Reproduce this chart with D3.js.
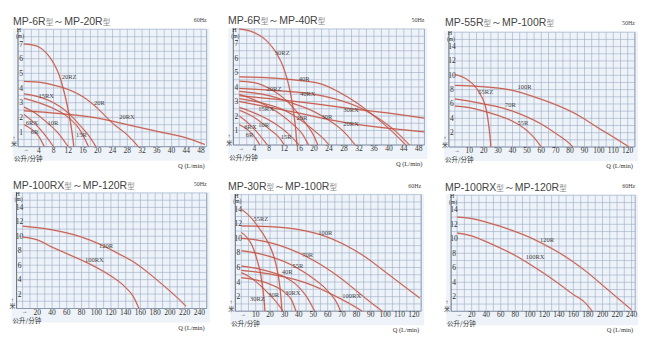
<!DOCTYPE html>
<html><head><meta charset="utf-8">
<script src="https://cdn.jsdelivr.net/npm/d3@7"></script>
<style>body{margin:0;background:#fff}svg{display:block}</style>
</head><body><svg id="c" width="654" height="341"></svg>
<script>
// ---------------- DATA ----------------
// Panel 1: MP-6R ~ MP-20R, 60Hz
const p1Freq = "60Hz";
const p1XTicks = [4,8,12,16,20,24,28,32,36,40,44,48];
const p1YTicks = [1,2,3,4,5,6,7];
const p1Series = [
  {name:"20RZ", pts:[[0,7],[2,6.95],[4,6.8],[6,6.4],[8,5.7],[9.5,4.9],[10.8,3.8],[12.2,2.2],[13,1],[13.5,0]]},
  {name:"20R",  pts:[[0,4.45],[4,4.4],[8,4.2],[12,3.9],[16,3.4],[20,2.6],[24,1.6],[28,0.8],[31,0]]},
  {name:"20RX", pts:[[0,2.45],[10,2.25],[20,1.95],[28,1.5],[36,1.05],[44,0.6],[49,0.15]]},
  {name:"15RX", pts:[[0,3.6],[4,3.4],[8,3.0],[12,2.3],[15,1.5],[18,0.6],[19.5,0]]},
  {name:"15R",  pts:[[0,3.3],[4,3.0],[8,2.6],[12,2.0],[15,1.2],[17.5,0]]},
  {name:"10R",  pts:[[0,2.7],[3,2.3],[6,1.7],[9,1.0],[12,0]]},
  {name:"6RX",  pts:[[0,2.2],[2,1.8],[4,1.3],[6,0.7],[8,0]]},
  {name:"6R",   pts:[[0,1.5],[2,1.2],[4,0.7],[5.5,0]]}
];
const p1Labels = [["20RZ",10.2,4.6],["15RX",3.9,3.34],["20R",19,2.84],["20RX",25.8,1.87],["6RX",0.5,1.48],["10R",6.4,1.48],["6R",1.8,0.84],["15R",14.1,0.68]];

// Panel 2: MP-6R ~ MP-40R, 50Hz
const p2Freq = "50Hz";
const p2XTicks = [4,8,12,16,20,24,28,32,36,40,44,48];
const p2YTicks = [1,2,3,4,5,6,7];
const p2Series = [
  {name:"30RZ", pts:[[0,8],[4,7.75],[8,7.0],[10,6.3],[12,5.2],[13.5,3.8],[14.5,2.3],[15.1,1.0],[15.4,0]]},
  {name:"40R",  pts:[[0,4.7],[10,4.6],[16,4.45],[22,4.2],[27,3.6],[32,2.8],[37,1.8],[41,0.9],[44.5,0]]},
  {name:"20RZ", pts:[[0,4.4],[4,4.3],[8,3.9],[12,3.2],[15,2.4],[18,1.4],[20,0.6],[21,0]]},
  {name:"40RX", pts:[[0,3.9],[10,3.75],[20,3.5],[26,3.15],[32,2.6],[38,1.7],[42,0.9],[45.5,0]]},
  {name:"30RX", pts:[[0,3.4],[10,3.15],[20,2.85],[30,2.5],[40,2.2],[49.5,1.85]]},
  {name:"20RX", pts:[[0,3.0],[8,2.6],[16,2.2],[24,1.75],[32,1.4],[40,1.15],[49.5,0.9]]},
  {name:"30R",  pts:[[0,3.7],[8,3.4],[14,2.9],[20,2.3],[24,1.7],[28,0.9],[31,0]]},
  {name:"20R",  pts:[[0,3.2],[6,2.9],[12,2.4],[16,1.8],[20,1.0],[23,0.3],[24,0]]},
  {name:"15RX", pts:[[0,3.5],[5,3.0],[10,2.3],[14,1.5],[17,0.7],[18.5,0]]},
  {name:"15R",  pts:[[0,2.6],[5,2.1],[10,1.4],[13,0.8],[16,0]]},
  {name:"10R",  pts:[[0,2.4],[4,1.9],[8,1.1],[11,0.4],[12,0]]},
  {name:"6RX",  pts:[[0,2.0],[2,1.6],[4,1.1],[6,0.5],[7.5,0]]},
  {name:"6R",   pts:[[0,1.4],[2,1.1],[4,0.6],[5.5,0]]}
];
const p2Labels = [["30RZ",9.5,6.24],["40R",15.9,4.4],["20RZ",7.3,3.73],["40RX",16.2,3.36],["15RX",5.1,2.32],["20R",15.3,1.74],["30R",22,1.81],["30RX",27.8,2.27],["20RX",27.8,1.28],["10R",5.1,1.23],["6RX",1.35,1.07],["6R",1.7,0.54],["15R",11.1,0.43]];

// Panel 3: MP-55R ~ MP-100R, 50Hz
const p3Freq = "50Hz";
const p3XTicks = [10,20,30,40,50,60,70,80,90,100,110,120];
const p3YTicks = [2,4,6,8,10,12,14];
const p3Series = [
  {name:"55RZ", pts:[[0,10.1],[5,9.8],[10,9.2],[15,8.2],[18,7.2],[20,6.4],[22,5.0],[23.5,3.0],[24.5,1.2],[25,0]]},
  {name:"100R", pts:[[0,8.6],[20,8.4],[40,7.9],[55,7.0],[70,5.9],[85,4.5],[100,2.6],[110,1.4],[121,0]]},
  {name:"70R",  pts:[[0,6.7],[10,6.4],[20,6.0],[30,5.6],[40,5.0],[50,4.2],[60,3.2],[70,1.9],[80,0.4],[82,0]]},
  {name:"55R",  pts:[[0,5.7],[10,5.5],[20,5.0],[30,4.4],[40,3.6],[50,2.3],[55,1.3],[60,0]]}
];
const p3Labels = [["55RZ",16.3,7.4],["100R",43.4,8.04],["70R",34.8,5.63],["55R",43.4,3.07]];

// Panel 4: MP-100RX ~ MP-120R, 50Hz
const p4Freq = "50Hz";
const p4XTicks = [20,40,60,80,100,120,140,160,180,200,220,240];
const p4YTicks = [2,4,6,8,10,12,14];
const p4Series = [
  {name:"120R",  pts:[[0,11.4],[40,10.9],[80,9.9],[105,8.9],[130,7.6],[150,6.5],[170,5.0],[190,3.3],[210,1.5],[222,0.3]]},
  {name:"100RX", pts:[[0,9.9],[20,9.5],[40,8.5],[60,7.6],[80,6.7],[100,5.7],[120,4.5],[140,2.9],[150,1.7],[158,0]]}
];
const p4Labels = [["120R",103.7,8.42],["100RX",84.7,6.48]];

// Panel 5: MP-30R ~ MP-100R, 60Hz
const p5Freq = "60Hz";
const p5XTicks = [10,20,30,40,50,60,70,80,90,100,110,120];
const p5YTicks = [2,4,6,8,10,12,14];
const p5Series = [
  {name:"100R",  pts:[[0,11.7],[20,11.6],[40,11.2],[55,10.5],[70,9.3],[85,7.6],[100,5.4],[112,3.6],[124,1.8]]},
  {name:"70R",   pts:[[0,10.0],[10,9.8],[20,9.4],[30,8.8],[40,8.0],[50,7.0],[60,5.8],[70,4.4],[80,2.8],[90,1.2],[98,0]]},
  {name:"55R",   pts:[[0,8.3],[10,8.0],[20,7.5],[30,6.8],[40,5.8],[50,4.5],[60,2.8],[68,0.5],[69,0]]},
  {name:"55RZ",  pts:[[0,14],[6,13],[12,11.5],[17,10],[21,8.4],[24,6.5],[26,4.5],[27.5,2],[28.3,0]]},
  {name:"30RZ",  pts:[[0,10.8],[4,10.1],[8,8.8],[11,7.0],[13.5,5.0],[15,3.0],[16,1.2],[16.4,0]]},
  {name:"40R",   pts:[[0,6.2],[10,5.9],[20,5.4],[30,4.7],[40,3.3],[46,1.8],[51,0]]},
  {name:"30R",   pts:[[0,5.3],[5,4.8],[10,4.1],[15,3.2],[20,2.2],[25,1.1],[29,0]]},
  {name:"30RX",  pts:[[0,4.6],[10,4.3],[20,3.7],[30,2.6],[35,1.5],[38,0]]},
  {name:"100RX", pts:[[0,5.6],[10,5.4],[20,5.1],[30,4.7],[40,4.2],[50,3.5],[60,2.6],[70,1.6],[80,0.5],[84,0]]}
];
const p5Labels = [["55RZ",8.4,12.38],["100R",53.5,10.4],["70R",42.4,7.4],["40R",28.1,5.05],["55R",35.5,5.9],["30RZ",6,1.4],["30R",18.8,2.0],["30RX",30.4,2.22],["100RX",70.2,1.86]];

// Panel 6: MP-100RX ~ MP-120R, 60Hz
const p6Freq = "60Hz";
const p6XTicks = [20,40,60,80,100,120,140,160,180,200,220,240];
const p6YTicks = [2,4,6,8,10,12,14];
const p6Series = [
  {name:"120R",  pts:[[0,13],[20,12.8],[40,12.3],[60,11.7],[80,11],[100,10.2],[120,9.2],[140,8.1],[160,6.8],[180,5.3],[200,3.6],[220,1.9],[240,0.2]]},
  {name:"100RX", pts:[[0,10.8],[20,10.4],[40,9.6],[60,8.7],[80,7.7],[100,6.5],[120,5.2],[140,3.8],[160,2.3],[175,1.3],[186,0]]}
];
const p6Labels = [["120R",114,9.6],["100RX",94.3,7.16]];

// ---------------- LAYOUT ----------------
const panels = [
  {t1:"MP-6R", t2:"MP-20R", freq:p1Freq, xt:p1XTicks, yt:p1YTicks, s:p1Series, lb:p1Labels,
   x0:24, kx:3.69, xmax:49.5, xc:2, y0:146.7, ky:14.67, ymax:8, yc:0.5, tx:13, ty:25},
  {t1:"MP-6R", t2:"MP-40R", freq:p2Freq, xt:p2XTicks, yt:p2YTicks, s:p2Series, lb:p2Labels,
   x0:239.3, kx:3.74, xmax:49.5, xc:2, y0:145, ky:14.5, ymax:8, yc:0.5, tx:228, ty:24},
  {t1:"MP-55R", t2:"MP-100R", freq:p3Freq, xt:p3XTicks, yt:p3YTicks, s:p3Series, lb:p3Labels,
   x0:454.9, kx:1.44, xmax:125, xc:5, y0:147, ky:7.17, ymax:16, yc:1, tx:445, ty:26},
  {t1:"MP-100RX", t2:"MP-120R", freq:p4Freq, xt:p4XTicks, yt:p4YTicks, s:p4Series, lb:p4Labels,
   x0:22.6, kx:0.7365, xmax:250, xc:10, y0:308.5, ky:7.22, ymax:16, yc:1, tx:13, ty:189},
  {t1:"MP-30R", t2:"MP-100R", freq:p5Freq, xt:p5XTicks, yt:p5YTicks, s:p5Series, lb:p5Labels,
   x0:241.3, kx:1.439, xmax:125, xc:5, y0:311.2, ky:7.285, ymax:16, yc:1, tx:228, ty:190},
  {t1:"MP-100RX", t2:"MP-120R", freq:p6Freq, xt:p6XTicks, yt:p6YTicks, s:p6Series, lb:p6Labels,
   x0:457.1, kx:0.727, xmax:245, xc:10, y0:311.3, ky:7.25, ymax:16, yc:1, tx:445, ty:191}
];

const svg = d3.select("#c");
svg.append("rect").attr("width",654).attr("height",341).attr("fill","#fff");
const serif = "'Liberation Serif','DejaVu Serif',serif";
const cjk = "'Noto Sans CJK SC',sans-serif";

panels.forEach(P => {
  const g = svg.append("g");
  const x = d3.scaleLinear().domain([0, P.xmax]).range([P.x0, P.x0 + P.xmax*P.kx]);
  const y = d3.scaleLinear().domain([0, P.ymax]).range([P.y0, P.y0 - P.ymax*P.ky]);
  const left = P.x0 - 6, right = x(P.xmax), top = y(P.ymax), bot = y(0);
  // panel background
  g.append("rect").attr("x", P.x0-11).attr("y", top-1).attr("width", right-(P.x0-11)+3).attr("height", bot+14-(top-1)).attr("fill","#eef3f9");
  // grid
  const vx = d3.range(0, P.xmax+1e-9, P.xc);
  g.selectAll(null).data(vx).join("line")
    .attr("x1", d=>x(d)).attr("x2", d=>x(d)).attr("y1", top).attr("y2", bot)
    .attr("stroke","#9aabc4").attr("stroke-width",0.6);
  const hy = d3.range(0, P.ymax+1e-9, P.yc);
  g.selectAll(null).data(hy).join("line")
    .attr("x1", left).attr("x2", right).attr("y1", d=>y(d)).attr("y2", d=>y(d))
    .attr("stroke","#9aabc4").attr("stroke-width",0.6);
  g.append("line").attr("x1",right).attr("x2",right).attr("y1",top).attr("y2",bot).attr("stroke","#8a9ab4").attr("stroke-width",0.8);
  g.append("line").attr("x1",left).attr("x2",left).attr("y1",top).attr("y2",bot).attr("stroke","#556070").attr("stroke-width",0.9);
  g.append("line").attr("x1",left).attr("x2",right).attr("y1",bot).attr("y2",bot).attr("stroke","#7d8aa0").attr("stroke-width",0.8);
  // y ticks
  g.selectAll(null).data(P.yt).join("text")
    .attr("x", P.x0-3).attr("y", d=>y(d)+2.5).attr("text-anchor","middle")
    .attr("font-family",serif).attr("font-size",7.5).attr("fill","#333").text(d=>d);
  g.append("text").attr("x",P.x0-5).attr("y",top+3).attr("text-anchor","middle").attr("font-family",serif).attr("font-size",6).attr("fill","#333").text("H");
  g.append("text").attr("x",P.x0-4).attr("y",top+8.5).attr("text-anchor","middle").attr("font-family",serif).attr("font-size",5.5).attr("fill","#333").text("(m)");
  // x ticks
  g.selectAll(null).data(P.xt).join("text")
    .attr("x", d=>x(d)).attr("y", bot+6).attr("text-anchor","middle")
    .attr("font-family",serif).attr("font-size",7.5).attr("fill","#333").text(d=>d);
  g.append("text").attr("x",P.x0+2).attr("y",bot+4.5).attr("text-anchor","middle").attr("font-family",serif).attr("font-size",5.5).attr("fill","#333").text("→");
  g.append("text").attr("x",P.x0-10).attr("y",bot+14.5).attr("font-family",cjk).attr("font-size",6.5).attr("fill","#333").text("公升/分钟");
  g.append("text").attr("x",P.x0-10).attr("y",bot-0.5).attr("text-anchor","middle").attr("font-family",cjk).attr("font-size",6).attr("fill","#333").text("米");
  g.append("text").attr("x",P.x0-10).attr("y",bot-7).attr("text-anchor","middle").attr("font-family",serif).attr("font-size",6).attr("font-weight","bold").attr("fill","#333").text("↑");
  g.append("text").attr("x",right-2).attr("y",bot+21).attr("text-anchor","end").attr("font-family",serif).attr("font-size",6.5).attr("fill","#333").text("Q (L/min)");
  // curves
  const line = d3.line().x(d=>x(d[0])).y(d=>y(d[1])).curve(d3.curveMonotoneX);
  g.selectAll(null).data(P.s).join("path")
    .attr("d", d=>line(d.pts)).attr("fill","none")
    .attr("stroke","#d9998f").attr("stroke-width",1.8).attr("stroke-opacity",0.55);
  g.selectAll(null).data(P.s).join("path")
    .attr("d", d=>line(d.pts)).attr("fill","none")
    .attr("stroke","#c24e40").attr("stroke-width",0.9);
  // curve labels
  g.selectAll(null).data(P.lb).join("text")
    .attr("x", d=>x(d[1])).attr("y", d=>y(d[2]))
    .attr("font-family",serif).attr("font-size",6.5).attr("fill","#444").text(d=>d[0]);
  // title
  const t = g.append("text").attr("x",P.tx).attr("y",P.ty).attr("font-family","'Liberation Sans',Arial,sans-serif").attr("font-size",10.5).attr("fill","#444");
  t.append("tspan").text(P.t1);
  t.append("tspan").attr("font-size",7.5).attr("fill","#888").attr("font-family",cjk).text("型");
  t.append("tspan").text("～"+P.t2);
  t.append("tspan").attr("font-size",7.5).attr("fill","#888").attr("font-family",cjk).text("型");
  g.append("text").attr("x",right).attr("y",top-7).attr("text-anchor","end").attr("font-family",serif).attr("font-size",6).attr("fill","#444").text(P.freq);
});
</script></body></html>
